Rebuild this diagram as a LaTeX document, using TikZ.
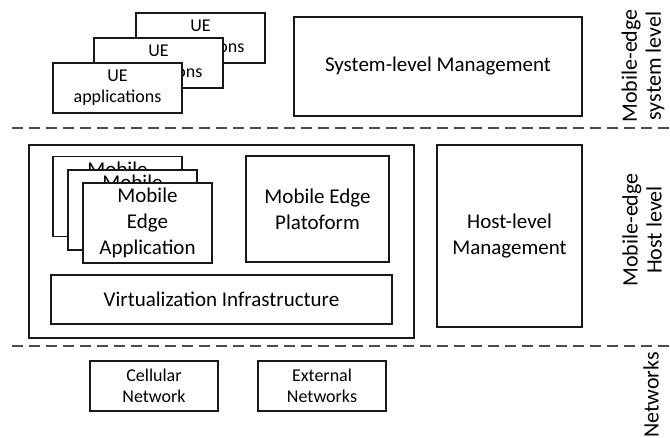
\documentclass[tikz,border=0pt]{standalone}
\usepackage{fontspec}
\setmainfont{Carlito}
\usetikzlibrary{positioning, calc}

\newcommand{\boxfont}{\fontsize{21}{26}\selectfont}
\newcommand{\smallfont}{\fontsize{18}{21}\selectfont}
\newcommand{\sidefont}{\fontsize{22}{24}\selectfont}

\begin{document}
\begin{tikzpicture}[
  x=1pt, y=-1pt,
  blk/.style={draw=black!90, line width=1.2pt, fill=white, align=center, inner sep=0pt, outer sep=0pt, font=\boxfont},
  small/.style={blk, minimum width=129pt, minimum height=50pt, font=\smallfont},
  app/.style={blk, minimum width=129pt, minimum height=80pt},
  sep/.style={draw=black!70, line width=1.6pt, dash pattern=on 11pt off 6pt},
  side/.style={rotate=90, align=center, font=\sidefont},
]
\useasboundingbox (0,0) rectangle (670,437);

% === SYSTEM LEVEL ===
\node[small] (ue3) at (200.5,38) {UE\\applications};
\node[small] (ue2) at ($(ue3)+(-42,25)$) {UE\\applications};
\node[small] (ue1) at ($(ue2)+(-41,25)$) {UE\\applications};

\node[blk, minimum width=288pt, minimum height=99pt] (sysmgmt) at (438,66.5) {System-level Management};

\node[side] (lbl_sys) at (643,66) {Mobile-edge\\system level};

\coordinate (sep1_l) at (12,128);
\coordinate (sep1_r) at (670,128);
\draw[sep] (sep1_l) -- (sep1_r);

% === HOST LEVEL ===
\node[blk, minimum width=385pt, minimum height=193pt] (host) at (221.5,241.5) {};

\node[app] (mea3) at (117.5,196.5) {Mobile\\Edge\\Application};
\node[app] (mea2) at ($(mea3)+(15,13.5)$) {Mobile\\Edge\\Application};
\node[app] (mea1) at ($(mea2)+(15,13)$) {Mobile\\Edge\\Application};

\node[blk, minimum width=143pt, minimum height=106pt] (platform) at (317.5,209) {Mobile Edge\\Platoform};

\node[blk, minimum width=341pt, minimum height=49pt] (virt) at (221.5,299.5) {Virtualization Infrastructure};

\node[blk, minimum width=145pt, minimum height=182pt, anchor=north west] (hostmgmt) at ($(host.north east)+(23,0)$) {Host-level\\Management};

\node[side] (lbl_host) at (642,230) {Mobile-edge\\Host level};

\coordinate (sep2_l) at (12,346);
\coordinate (sep2_r) at (670,346);
\draw[sep] (sep2_l) -- (sep2_r);

% === NETWORKS ===
\node[small, minimum width=128pt] (cellular) at (154,386) {Cellular\\Network};
\node[small, minimum width=128pt, right=40pt of cellular] (external) {External\\Networks};

\node[side] (lbl_net) at (651,395) {Networks};

\end{tikzpicture}
\end{document}
